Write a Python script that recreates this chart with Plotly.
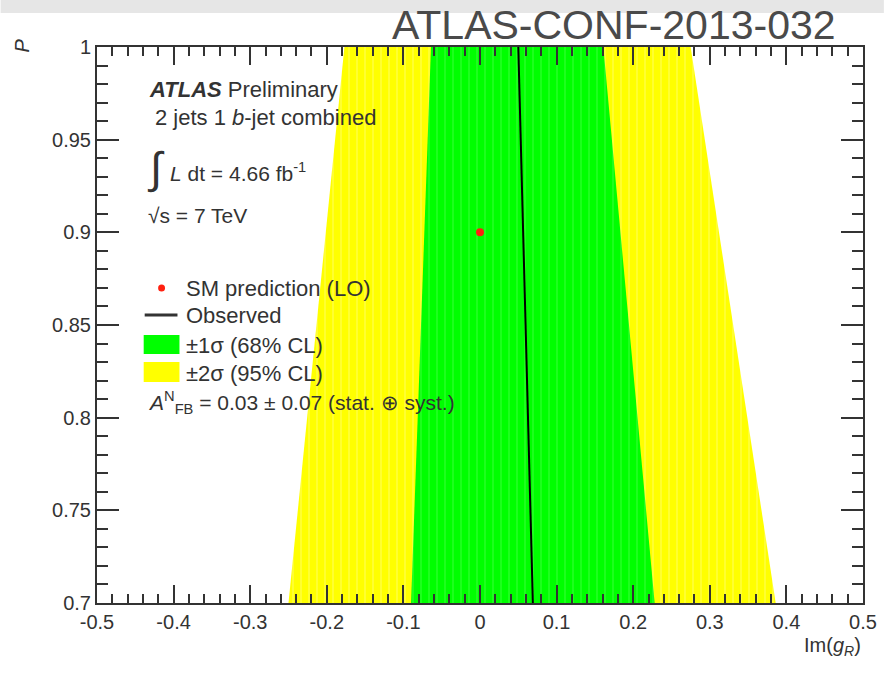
import plotly.graph_objects as go

# ---- data ----
P_edges = [0.7, 1.0]
yellow_lo = [-0.250, -0.177]
green_lo = [-0.090, -0.064]
observed = [0.069, 0.050]
green_hi = [0.228, 0.161]
yellow_hi = [0.386, 0.275]
sm_x = [0.0]
sm_y = [0.9]

x_ticks = [-0.5, -0.4, -0.3, -0.2, -0.1, 0, 0.1, 0.2, 0.3, 0.4, 0.5]
x_tick_text = ["-0.5", "-0.4", "-0.3", "-0.2", "-0.1", "0", "0.1", "0.2", "0.3", "0.4", "0.5"]
y_ticks = [0.7, 0.75, 0.8, 0.85, 0.9, 0.95, 1.0]
y_tick_text = ["0.7", "0.75", "0.8", "0.85", "0.9", "0.95", "1"]

W, H = 889, 676
L, R, T, B = 97, 868, 47, 603
FONT = "Liberation Sans"
TXT = "#333333"


def px(xp):
    return (xp - L) / (R - L)


def py(yp):
    return (B - yp) / (B - T)


def band(lo, hi):
    xs = [lo[0], lo[1], hi[1], hi[0], lo[0]]
    ys = [P_edges[0], P_edges[1], P_edges[1], P_edges[0], P_edges[0]]
    return xs, ys


fig = go.Figure()

xs, ys = band(yellow_lo, yellow_hi)
fig.add_trace(go.Scatter(x=xs, y=ys, fill="toself", mode="lines",
                         line=dict(width=0), fillcolor="#ffff00",
                         fillpattern=dict(shape="|", bgcolor="#ffff00", fgcolor="#ffffa0",
                                          size=8, solidity=0.15),
                         hoverinfo="skip", showlegend=False))
xs, ys = band(green_lo, green_hi)
fig.add_trace(go.Scatter(x=xs, y=ys, fill="toself", mode="lines",
                         line=dict(width=0), fillcolor="#00ff00",
                         fillpattern=dict(shape="|", bgcolor="#00ff00", fgcolor="#60ff60",
                                          size=8, solidity=0.15),
                         hoverinfo="skip", showlegend=False))
fig.add_trace(go.Scatter(x=observed, y=P_edges, mode="lines",
                         line=dict(color="#000000", width=2), showlegend=False))
fig.add_trace(go.Scatter(x=sm_x, y=sm_y, mode="markers",
                         marker=dict(color="#ff2010", size=8), showlegend=False))

axis_common = dict(showline=True, linecolor="#333333", linewidth=2, mirror="ticks",
                   ticks="inside", tickcolor="#333333", tickwidth=1.5,
                   showgrid=False, zeroline=False,
                   tickfont=dict(family=FONT, size=20, color=TXT))

fig.update_xaxes(range=[-0.5, 0.5], tickvals=x_ticks, ticktext=x_tick_text, ticklen=18,
                 minor=dict(ticks="inside", dtick=0.02, ticklen=9, tickcolor="#333333", tickwidth=1.5),
                 **axis_common)
fig.update_yaxes(range=[0.7, 1.0], tickvals=y_ticks, ticktext=y_tick_text, ticklen=22,
                 minor=dict(ticks="inside", dtick=0.01, ticklen=11, tickcolor="#333333", tickwidth=1.5),
                 **axis_common)

shapes = [
    # faint grey strip along the top of the page
    dict(type="rect", xref="paper", yref="paper", x0=px(0), x1=px(W), y0=py(13), y1=py(0),
         fillcolor="#e6e6e6", line=dict(width=0), layer="below"),
    # legend symbols
    dict(type="line", xref="paper", yref="paper", x0=px(145), x1=px(178), y0=py(315), y1=py(315),
         line=dict(color="#333333", width=3)),
    dict(type="rect", xref="paper", yref="paper", x0=px(144), x1=px(180), y0=py(354), y1=py(335),
         fillcolor="#00ff00", line=dict(width=0)),
    dict(type="rect", xref="paper", yref="paper", x0=px(144), x1=px(180), y0=py(382), y1=py(362),
         fillcolor="#ffff00", line=dict(width=0)),
    dict(type="circle", xref="paper", yref="paper", x0=px(158.5), x1=px(165.5), y0=py(291.5), y1=py(284.5),
         fillcolor="#ff2010", line=dict(width=0)),
]

ann = []


def text(x, y, s, size=20, anchor="left", color=TXT, family=FONT, **kw):
    ann.append(dict(xref="paper", yref="paper", x=px(x), y=py(y), text=s, showarrow=False,
                    xanchor=anchor, yanchor="middle", font=dict(family=family, size=size, color=color), **kw))


text(147, 90, "<b><i>ATLAS</i></b> Preliminary", 22)
text(153, 118, "2 jets 1 <i>b</i>-jet combined", 22)
text(145, 168, "∫", 44)
text(168, 172, "<i>L</i> dt = 4.66 fb<sup>-1</sup>", 21)
text(146, 215, "√s = 7 TeV", 21)
text(185, 288, "SM prediction (LO)", 22)
text(185, 315, "Observed", 22)
text(185, 345, "±1σ (68% CL)", 22)
text(185, 373, "±2σ (95% CL)", 22)
text(146, 402, "<i>A</i><sup>N</sup><sub>FB</sub> = 0.03 ± 0.07 (stat. ⊕ syst.)", 21)
text(868, 646, "Im(<i>g</i><sub><i>R</i></sub>)", 20, anchor="right")
text(22, 45, "<i>P</i>", 20, anchor="center", textangle=-90)
text(617, 25, "ATLAS-CONF-2013-032", 41, anchor="center", color="#4a4a4a")

fig.update_layout(width=W, height=H, margin=dict(l=L, r=W - R, t=T, b=H - B),
                  paper_bgcolor="white", plot_bgcolor="white",
                  shapes=shapes, annotations=ann, showlegend=False)

fig.write_html("out.html")
